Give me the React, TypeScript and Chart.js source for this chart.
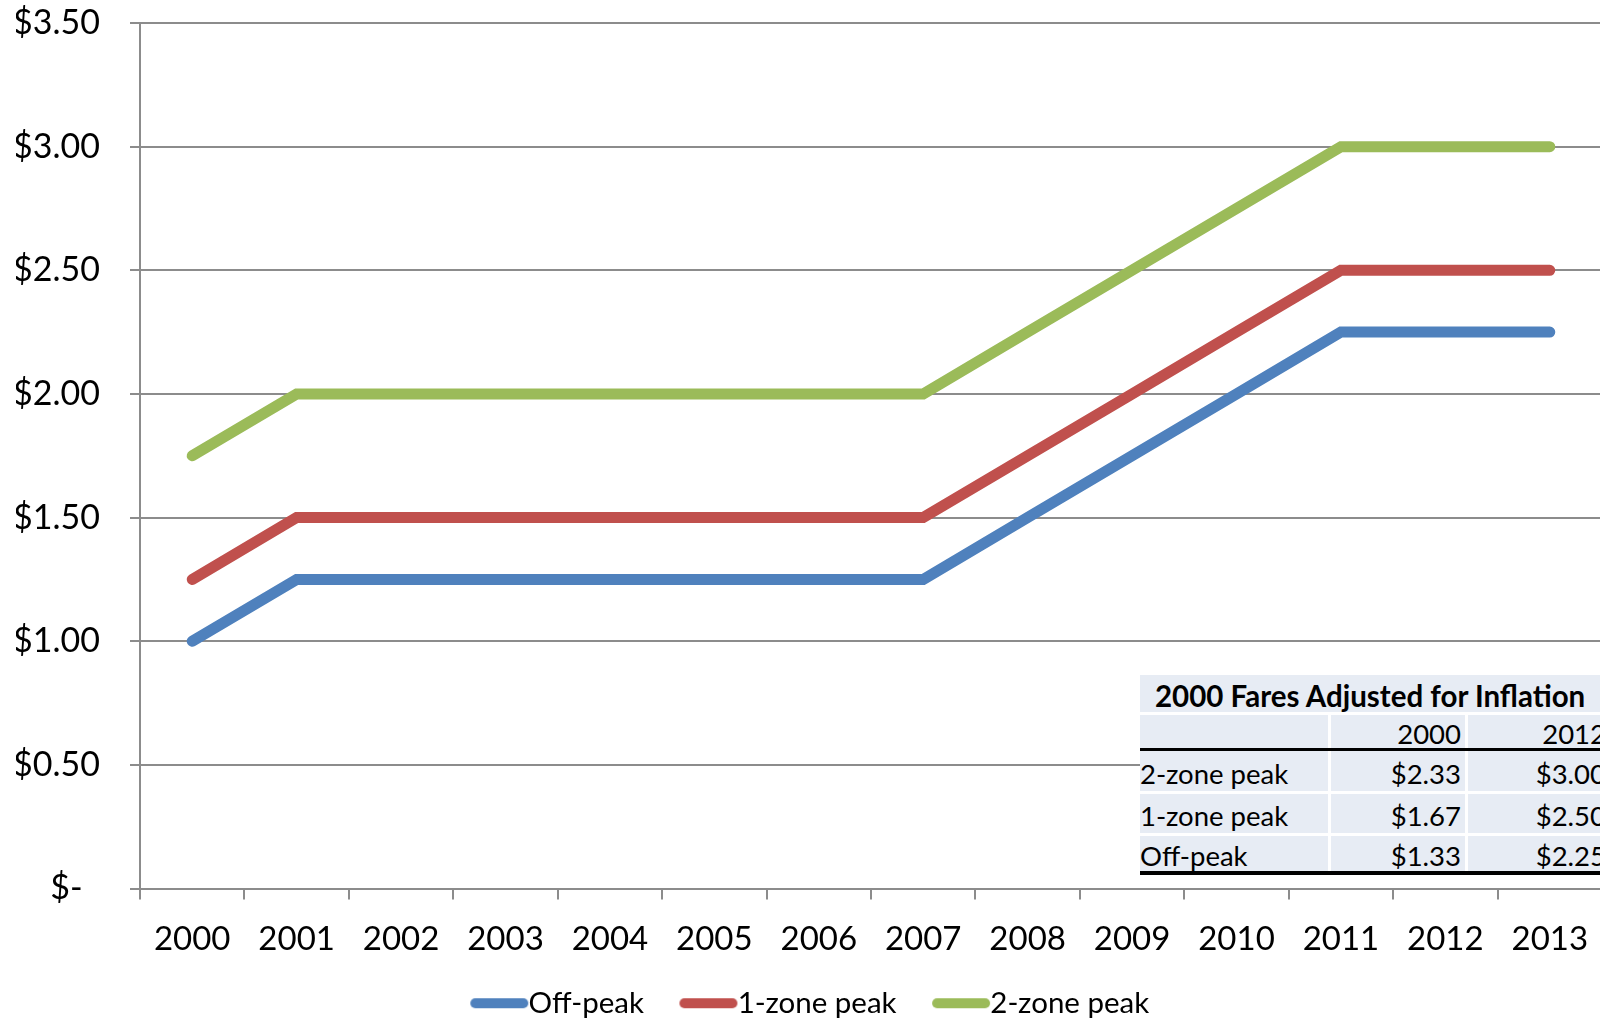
import React, { useEffect, useRef } from "react";
import { Chart, registerables } from "chart.js";

Chart.register(...registerables);

const years = ["2000", "2001", "2002", "2003", "2004", "2005", "2006", "2007", "2008", "2009", "2010", "2011", "2012", "2013"];
const offPeak = [1.0, 1.25, 1.25, 1.25, 1.25, 1.25, 1.25, 1.25, 1.5, 1.75, 2.0, 2.25, 2.25, 2.25];
const oneZonePeak = [1.25, 1.5, 1.5, 1.5, 1.5, 1.5, 1.5, 1.5, 1.75, 2.0, 2.25, 2.5, 2.5, 2.5];
const twoZonePeak = [1.75, 2.0, 2.0, 2.0, 2.0, 2.0, 2.0, 2.0, 2.25, 2.5, 2.75, 3.0, 3.0, 3.0];
const seriesNames = ["Off-peak", "1-zone peak", "2-zone peak"];
const seriesColors = ["#4F81BD", "#C0504D", "#9BBB59"];
const yTickLabels = ["$-  ", "$0.50", "$1.00", "$1.50", "$2.00", "$2.50", "$3.00", "$3.50"];

const tableTitle = "2000 Fares Adjusted for Inflation";
const tableYears = ["2000", "2012"];
const tableRowNames = ["2-zone peak", "1-zone peak", "Off-peak"];
const table2000 = ["$2.33", "$1.67", "$1.33"];
const table2012 = ["$3.00", "$2.50", "$2.25"];

const FONT = "Lato, 'Liberation Sans', sans-serif";
const GRID = "#8C8C8C";
const CELL = "#E7ECF4";

function legendLine(color: string): HTMLCanvasElement {
  const c = document.createElement("canvas");
  c.width = 120;
  c.height = 12;
  const ctx = c.getContext("2d")!;
  ctx.strokeStyle = color;
  ctx.lineWidth = 10;
  ctx.lineCap = "round";
  ctx.beginPath();
  ctx.moveTo(44, 6);
  ctx.lineTo(92, 6);
  ctx.stroke();
  return c;
}

export default function App() {
  const ref = useRef<HTMLCanvasElement>(null);

  useEffect(() => {
    if (!ref.current) return;
    const seriesData = [offPeak, oneZonePeak, twoZonePeak];
    const chart = new Chart(ref.current, {
      type: "line",
      data: {
        labels: years,
        datasets: seriesData.map((d, i) => ({
          label: seriesNames[i],
          data: d,
          borderColor: seriesColors[i],
          backgroundColor: seriesColors[i],
          borderWidth: 11,
          borderCapStyle: "round" as const,
          borderJoinStyle: "miter" as const,
          pointRadius: 0,
          pointHoverRadius: 0,
          pointStyle: legendLine(seriesColors[i]),
          tension: 0,
          fill: false,
        })),
      },
      options: {
        responsive: false,
        animation: false,
        devicePixelRatio: 1,
        layout: { padding: { top: 23, left: 16, right: 0, bottom: 0 } },
        plugins: {
          tooltip: { enabled: false },
          legend: {
            position: "bottom",
            labels: {
              usePointStyle: true,
              pointStyleWidth: 45,
              padding: 34,
              color: "#000",
              font: { family: FONT, size: 29.5 },
            },
          },
        },
        scales: {
          x: {
            type: "category",
            offset: true,
            afterFit: (scale: any) => {
              scale.height = 66;
              scale.paddingLeft = 0;
              scale.paddingRight = 0;
            },
            grid: {
              offset: true,
              drawOnChartArea: false,
              drawTicks: true,
              tickLength: 11,
              color: GRID,
              lineWidth: 2,
            },
            border: { color: GRID, width: 2 },
            ticks: {
              color: "#000",
              padding: 20,
              maxRotation: 0,
              autoSkip: false,
              font: { family: FONT, size: 33 },
            },
          },
          y: {
            min: 0,
            max: 3.5,
            afterFit: (scale: any) => {
              scale.width = 124;
              scale.paddingTop = 0;
              scale.paddingBottom = 0;
            },
            grid: { color: GRID, lineWidth: 2, tickLength: 10, drawTicks: true },
            border: { color: GRID, width: 2 },
            ticks: {
              stepSize: 0.5,
              color: "#000",
              padding: 30,
              font: { family: FONT, size: 34 },
              callback: (_v: any, idx: number) => yTickLabels[idx],
            },
          },
        },
      },
    });
    return () => chart.destroy();
  }, []);

  const cell = (
    left: number,
    top: number,
    width: number,
    height: number,
    text: string,
    align: "left" | "right",
    opts: { bold?: boolean; size?: number; pad?: number; bg?: string } = {}
  ) => (
    <div
      key={`${left}-${top}`}
      style={{
        position: "absolute",
        left,
        top,
        width,
        height,
        background: opts.bg ?? CELL,
        boxSizing: "border-box",
        display: "flex",
        alignItems: "center",
        justifyContent: align === "left" ? "flex-start" : "flex-end",
        paddingLeft: align === "left" ? opts.pad ?? 0 : 0,
        paddingRight: align === "right" ? opts.pad ?? 4 : 0,
        paddingTop: 5,
        fontFamily: FONT,
        fontSize: opts.size ?? 27.5,
        fontWeight: opts.bold ? 700 : 400,
        color: "#000",
        whiteSpace: "nowrap",
        lineHeight: 1,
      }}
    >
      {text}
    </div>
  );

  const colL = [1140, 1331, 1468];
  const colW = [188, 134, 142];
  const rowTops = [751, 794, 836];
  const rowHs = [40, 39, 35];

  return (
    <div style={{ position: "fixed", left: 0, top: 0, width: 1600, height: 1020, overflow: "hidden", background: "#fff" }}>
      <canvas ref={ref} width={1602} height={1028} style={{ position: "absolute", left: 0, top: 0, width: 1602, height: 1028 }} />
      <div style={{ position: "absolute", left: 1140, top: 675, width: 470, height: 200, background: "#fff" }} />
      {cell(1140, 675, 470, 37, tableTitle, "left", { bold: true, size: 29.5, pad: 15 })}
      {cell(colL[0], 715, colW[0], 33, "", "left")}
      {cell(colL[1], 715, colW[1], 33, tableYears[0], "right")}
      {cell(colL[2], 715, colW[2], 33, tableYears[1], "right")}
      <div style={{ position: "absolute", left: 1140, top: 748, width: 470, height: 3, background: "#000" }} />
      {tableRowNames.map((name, i) => (
        <React.Fragment key={name}>
          {cell(colL[0], rowTops[i], colW[0], rowHs[i], name, "left")}
          {cell(colL[1], rowTops[i], colW[1], rowHs[i], table2000[i], "right")}
          {cell(colL[2], rowTops[i], colW[2], rowHs[i], table2012[i], "right")}
        </React.Fragment>
      ))}
      <div style={{ position: "absolute", left: 1140, top: 871, width: 470, height: 4, background: "#000" }} />
    </div>
  );
}
